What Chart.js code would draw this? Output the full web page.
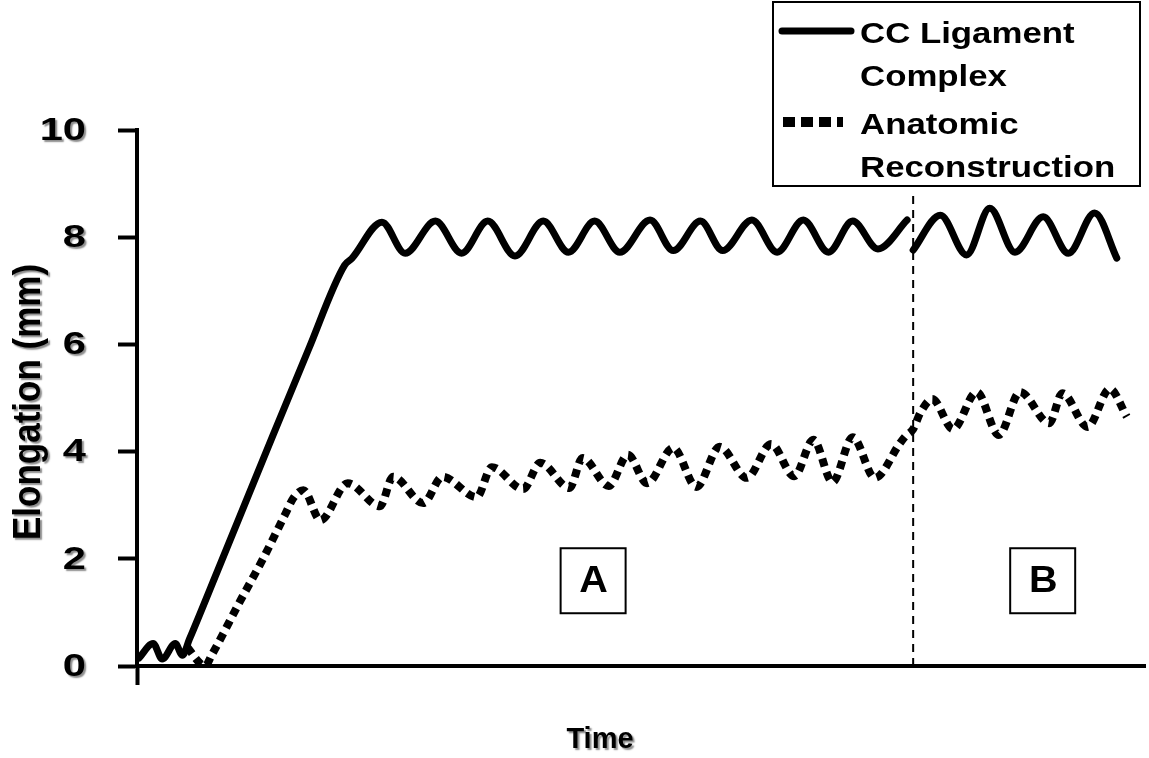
<!DOCTYPE html>
<html>
<head>
<meta charset="utf-8">
<script src="https://cdn.jsdelivr.net/npm/chart.js@4.4.0/dist/chart.umd.min.js"></script>
<style>
  body { margin: 0; background: #fff; }
  #wrap { width: 1149px; height: 758px; }
</style>
</head>
<body>
<div id="wrap"><canvas id="chart" width="1149" height="758"></canvas></div>
<script>
// CC ligament complex (solid) - time in arbitrary units, elongation in mm
const timeCC = [0.2, 1.6, 2.5, 3.8, 4.5, 5.2, 8.0, 12.5, 17.0, 20.6, 21.3, 24.3, 26.6, 29.6, 32.2, 34.8, 37.5, 40.3, 42.8, 45.4, 47.9, 50.9, 53.2, 55.9, 58.1, 61.0, 63.5, 66.1, 68.6, 71.0, 73.5, 76.4,
                76.7,
                77.0, 79.7, 82.3, 84.6, 87.1, 89.9, 92.4, 95.0, 97.2];
const elongCC = [0.15, 0.42, 0.13, 0.42, 0.2, 0.5, 1.78, 3.85, 5.9, 7.48, 7.6, 8.28, 7.7, 8.3, 7.7, 8.3, 7.65, 8.3, 7.72, 8.3, 7.72, 8.32, 7.75, 8.3, 7.75, 8.32, 7.72, 8.32, 7.72, 8.3, 7.78, 8.32,
                 null,
                 7.76, 8.41, 7.67, 8.54, 7.72, 8.38, 7.7, 8.45, 7.61];

// Anatomic reconstruction (dotted)
const timeAR = [5.0, 6.25, 6.75, 7.4, 10.2, 12.5, 14.7, 15.5, 16.5, 18.2, 20.9, 24.1, 25.4, 28.4, 30.3, 33.7, 35.2, 38.3, 40.0, 42.9, 44.2, 46.8, 48.7, 50.6, 53.2, 55.5, 57.8, 60.5, 62.9, 65.2, 67.1, 69.0, 71.0, 73.2, 75.7, 76.2,
                77.0, 77.7, 78.9, 80.95, 83.3, 85.5, 87.6, 90.5, 91.8, 94.3, 96.5, 98.2];
const elongAR = [0.35, 0.05, 0.0, 0.2, 1.2, 2.0, 2.83, 3.13, 3.28, 2.72, 3.41, 2.98, 3.53, 3.04, 3.53, 3.15, 3.71, 3.3, 3.79, 3.32, 3.88, 3.36, 3.94, 3.41, 4.07, 3.34, 4.09, 3.51, 4.14, 3.54, 4.22, 3.43, 4.27, 3.51, 4.16, 4.28,
                 4.42, 4.72, 4.98, 4.42, 5.11, 4.31, 5.11, 4.53, 5.09, 4.46, 5.17, 4.65];

// phase boundary between A and B
const boundaryTime = [77.0, 77.0];
const boundaryElong = [0, 8.8];

// phase labels
const phaseNames = ['A', 'B'];
const phaseTimes = [45.2, 89.8];
const phaseLevel = 1.6;

const yTicks = [0, 2, 4, 6, 8, 10];
const legendLines = [['CC Ligament', 'Complex'], ['Anatomic', 'Reconstruction']];

const FONT = '"Liberation Sans", Arial, sans-serif';

function pts(xs, ys) {
    return xs.map((x, i) => ({ x: x, y: ys[i] }));
}

// text in the original is stretched sideways; sx widens it, shadow optional
function drawText(ctx, text, x, y, sx, shadow) {
    ctx.save();
    ctx.translate(x, y);
    ctx.scale(sx, 1);
    if (shadow) {
        ctx.shadowColor = 'rgba(0,0,0,0.45)';
        ctx.shadowOffsetX = 2;
        ctx.shadowOffsetY = 2;
        ctx.shadowBlur = 1.5;
    }
    ctx.fillText(text, 0, 0);
    ctx.restore();
}

const decorPlugin = {
    id: 'decor',
    afterDraw(chart) {
        const ctx = chart.ctx;
        const xs = chart.scales.x;
        const ys = chart.scales.y;

        ctx.save();
        ctx.fillStyle = '#000';

        // y tick labels
        ctx.font = 'bold 32px ' + FONT;
        ctx.textAlign = 'right';
        ctx.textBaseline = 'middle';
        yTicks.forEach(v => drawText(ctx, String(v), 86, ys.getPixelForValue(v) + 1, 1.3, true));

        // axis titles
        ctx.font = 'bold 29px ' + FONT;
        ctx.textAlign = 'center';
        ctx.textBaseline = 'middle';
        drawText(ctx, 'Time', 600, 740, 1, true);

        ctx.save();
        ctx.font = 'bold 35px ' + FONT;
        ctx.translate(29, 402);
        ctx.rotate(-Math.PI / 2);
        ctx.scale(1, 1.1);
        ctx.shadowColor = 'rgba(0,0,0,0.45)';
        ctx.shadowOffsetX = 2;
        ctx.shadowOffsetY = 2;
        ctx.shadowBlur = 1.5;
        ctx.fillText('Elongation (mm)', 0, 0);
        ctx.restore();

        // phase boxes
        ctx.font = 'bold 36px ' + FONT;
        phaseNames.forEach((name, i) => {
            const cx = xs.getPixelForValue(phaseTimes[i]);
            const cy = ys.getPixelForValue(phaseLevel);
            ctx.lineWidth = 2;
            ctx.strokeStyle = '#000';
            ctx.fillStyle = '#fff';
            ctx.fillRect(cx - 32, cy - 32, 65, 65);
            ctx.strokeRect(cx - 32, cy - 32, 65, 65);
            ctx.fillStyle = '#000';
            drawText(ctx, name, cx + 1, cy + 2, 1.1, false);
        });

        // legend
        ctx.lineWidth = 2;
        ctx.strokeStyle = '#000';
        ctx.fillStyle = '#fff';
        ctx.fillRect(773, 2, 367, 184);
        ctx.strokeRect(773, 2, 367, 184);

        ctx.lineCap = 'round';
        ctx.lineWidth = 7;
        ctx.setLineDash([]);
        ctx.beginPath();
        ctx.moveTo(782, 31);
        ctx.lineTo(851, 31);
        ctx.stroke();

        ctx.lineCap = 'butt';
        ctx.lineWidth = 10;
        ctx.setLineDash([12, 6]);
        ctx.beginPath();
        ctx.moveTo(783, 122);
        ctx.lineTo(843, 122);
        ctx.stroke();
        ctx.setLineDash([]);

        ctx.fillStyle = '#000';
        ctx.font = 'bold 29px ' + FONT;
        ctx.textAlign = 'left';
        ctx.textBaseline = 'alphabetic';
        drawText(ctx, legendLines[0][0], 860, 43, 1.2, false);
        drawText(ctx, legendLines[0][1], 860, 86, 1.2, false);
        drawText(ctx, legendLines[1][0], 860, 134, 1.2, false);
        drawText(ctx, legendLines[1][1], 860, 177, 1.2, false);
        ctx.restore();
    }
};

const ctx = document.getElementById('chart').getContext('2d');
const chart = new Chart(ctx, {
    type: 'line',
    data: {
        datasets: [{
            label: 'CC Ligament Complex',
            data: pts(timeCC, elongCC),
            borderColor: '#000',
            borderWidth: 7,
            borderCapStyle: 'round',
            borderJoinStyle: 'round',
            cubicInterpolationMode: 'monotone',
            pointRadius: 0,
            spanGaps: false,
            fill: false
        }, {
            label: 'Anatomic Reconstruction',
            data: pts(timeAR, elongAR),
            borderColor: '#000',
            borderWidth: 8,
            borderDash: [8, 6],
            borderCapStyle: 'butt',
            cubicInterpolationMode: 'monotone',
            pointRadius: 0,
            fill: false
        }, {
            label: 'boundary',
            data: pts(boundaryTime, boundaryElong),
            borderColor: '#000',
            borderWidth: 2,
            borderDash: [8, 6],
            pointRadius: 0,
            fill: false
        }]
    },
    options: {
        responsive: false,
        animation: false,
        events: [],
        layout: { padding: { left: 0, top: 130, right: 4, bottom: 0 } },
        plugins: {
            legend: { display: false },
            tooltip: { enabled: false }
        },
        scales: {
            x: {
                type: 'linear',
                min: 0,
                max: 100,
                afterFit: s => { s.height = 92; },
                afterBuildTicks: s => { s.ticks = [{ value: 0 }]; },
                ticks: { display: false },
                grid: {
                    drawOnChartArea: false,
                    drawTicks: true,
                    tickLength: 19,
                    tickWidth: 4,
                    color: '#000'
                },
                border: { display: true, color: '#000', width: 4 }
            },
            y: {
                min: 0,
                max: 10,
                afterFit: s => { s.width = 137; },
                afterBuildTicks: s => { s.ticks = yTicks.map(v => ({ value: v })); },
                ticks: { display: false },
                grid: {
                    drawOnChartArea: false,
                    drawTicks: true,
                    tickLength: 19,
                    tickWidth: 4,
                    color: '#000'
                },
                border: { display: true, color: '#000', width: 4 }
            }
        }
    },
    plugins: [decorPlugin]
});
</script>
</body>
</html>
